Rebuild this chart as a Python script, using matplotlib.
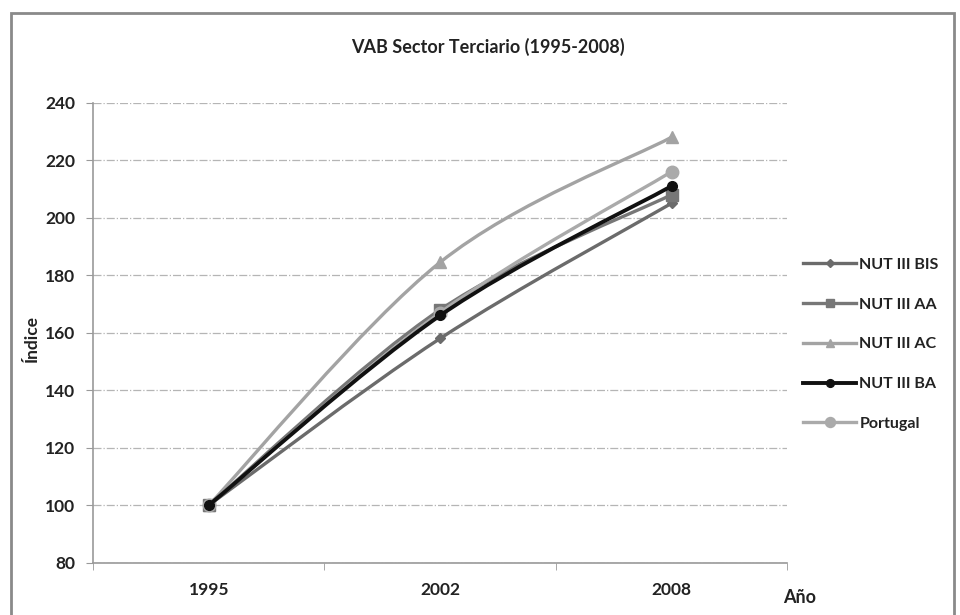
import matplotlib
matplotlib.use("Agg")
import matplotlib.pyplot as plt
import matplotlib.patches as patches
from matplotlib.path import Path
from matplotlib.lines import Line2D
import numpy as np

plt.rcParams['font.family'] = ['Lato', 'DejaVu Sans']

years = ['1995', '2002', '2008']
series_names = ['NUT III BIS', 'NUT III AA', 'NUT III AC', 'NUT III BA', 'Portugal']
bis = [100, 158, 205]
aa = [100, 168, 208]
ac = [100, 184.5, 228]
ba = [100, 166, 211]
portugal = [100, 167, 216]

estilos = [
    # color, linewidth, marker, markersize, zorder
    ('#6b6b6b', 2.4, 'D', 5, 3),
    ('#777777', 2.4, 's', 8, 4),
    ('#a3a3a3', 2.4, '^', 8, 2),
    ('#111111', 2.8, 'o', 7, 6),
    ('#aaaaaa', 2.4, 'o', 9, 5),
]


def smooth_path(xs, ys):
    """Bezier curve through the points (Catmull-Rom, as Excel smoothed lines)"""
    pts = np.column_stack([xs, ys]).astype(float)
    verts = [pts[0]]
    codes = [Path.MOVETO]
    n = len(pts)
    for i in range(n - 1):
        p0 = pts[max(i - 1, 0)]
        p1 = pts[i]
        p2 = pts[i + 1]
        p3 = pts[min(i + 2, n - 1)]
        c1 = p1 + (p2 - p0) / 6.0
        c2 = p2 - (p3 - p1) / 6.0
        verts += [c1, c2, p2]
        codes += [Path.CURVE4] * 3
    return Path(verts, codes)


fig = plt.figure(figsize=(9.6, 6.15), dpi=100)
ax = fig.add_axes([0.097, 0.085, 0.723, 0.748])

x = np.arange(len(years))
for name, vals, (col, lw, mk, ms, z) in zip(series_names, [bis, aa, ac, ba, portugal], estilos):
    path = smooth_path(x, vals)
    ax.add_patch(patches.PathPatch(path, facecolor='none', edgecolor=col, lw=lw, zorder=z))
    ax.plot(x, vals, linestyle='none', marker=mk, markersize=ms, color=col,
            markeredgecolor=col, zorder=z + 0.5)

ax.set_xlim(-0.5, 2.5)
ax.set_ylim(80, 240)
ax.set_yticks(np.arange(80, 241, 20))
ax.set_xticks(x)
ax.set_xticklabels(years)
ax.set_xticks([-0.5, 0.5, 1.5, 2.5], minor=True)
ax.tick_params(axis='x', which='major', length=0, pad=14, labelsize=12.5)
ax.tick_params(axis='x', which='minor', length=5, color='#999999', direction='out')
ax.tick_params(axis='y', length=5, color='#999999', pad=8, labelsize=12.5)
for lab in ax.get_xticklabels() + ax.get_yticklabels():
    lab.set_fontweight('bold')
    lab.set_color('#222222')

ax.grid(axis='y', linestyle='-.', color='#b5b5b5', linewidth=0.9)
ax.set_axisbelow(True)
for s in ['top', 'right']:
    ax.spines[s].set_visible(False)
for s in ['left', 'bottom']:
    ax.spines[s].set_color('#999999')
    ax.spines[s].set_linewidth(1.2)

fig.text(0.508, 0.923, 'VAB Sector Terciario (1995-2008)', ha='center', va='center',
         fontsize=13, fontweight='bold', color='#222222')
fig.text(0.033, 0.45, 'Índice', rotation=90, ha='center', va='center',
         fontsize=12.5, fontweight='bold', color='#222222')
fig.text(0.833, 0.028, 'Año', ha='center', va='center',
         fontsize=13, fontweight='bold', color='#222222')

handles = [Line2D([], [], color=col, lw=lw, marker=mk, markersize=ms * 0.8,
                  markeredgecolor=col) for col, lw, mk, ms, z in estilos]
leg = fig.legend(handles, series_names, loc='center left', bbox_to_anchor=(0.822, 0.44),
                 frameon=False, handlelength=3.3, handletextpad=0.2, labelspacing=1.6,
                 prop={'weight': 'bold', 'size': 11.5})
for t in leg.get_texts():
    t.set_color('#222222')

border = patches.Rectangle((0.011, -0.05), 0.983, 1.029, transform=fig.transFigure,
                           fill=False, edgecolor='#8a8a8a', linewidth=2.0)
fig.patches.append(border)

fig.savefig('out.png', dpi=100)
